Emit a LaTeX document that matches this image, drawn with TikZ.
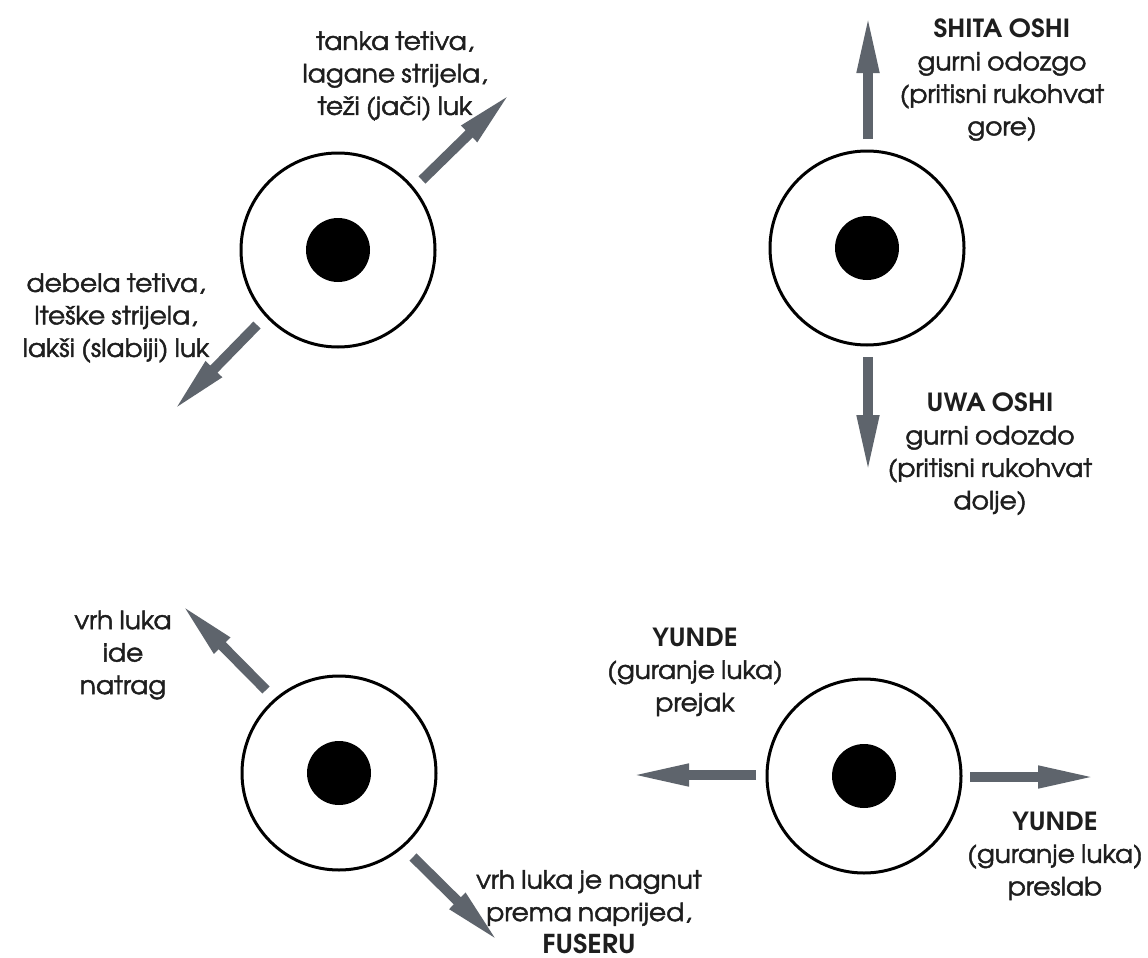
\documentclass[tikz,border=0pt]{standalone}
\usepackage{fontspec}
\setmainfont{TeX Gyre Adventor}[FakeStretch=1.06, UprightFeatures={FakeBold=1.8}, WordSpace=0.85]
\usetikzlibrary{arrows.meta}
\definecolor{arrgray}{RGB}{94,100,108}
\definecolor{txt}{RGB}{30,30,30}
\tikzset{
  ring/.style={circle, draw=black, line width=3pt, minimum size=194pt, inner sep=0pt},
  dot/.style={circle, fill=black, minimum size=64pt, inner sep=0pt},
  bigarrow/.style={draw=arrgray, line width=10pt,
    -{Triangle[length=60pt,width=20pt,fill=arrgray]}},
  lbl/.style={align=center, inner sep=0pt, text=txt,
    font=\fontsize{25}{32.5}\selectfont}
}
\newcommand{\ttl}[1]{\textbf{#1}}
\begin{document}
\begin{tikzpicture}[x=1pt,y=-1pt]
\useasboundingbox (0,0) rectangle (1148,958);
\fill[white] (0,0) rectangle (1148,958);
% rings
\node[ring] (c1) at (338,250) {};
\node[dot] (d1) at (338,250) {};
\node[ring] (c2) at (867,248) {};
\node[dot] (d2) at (867,248) {};
\node[ring] (c3) at (339,773) {};
\node[dot] (d3) at (339,773) {};
\node[ring] (c4) at (864,776) {};
\node[dot] (d4) at (864,776) {};
% arrow ends
\coordinate (a1s) at (422,180); \coordinate (a1e) at (512,92);
\coordinate (a2s) at (257,325); \coordinate (a2e) at (172,412);
\coordinate (a3s) at (868,139); \coordinate (a3e) at (868,13);
\coordinate (a4s) at (868,357); \coordinate (a4e) at (868,475);
\coordinate (a5s) at (266,690); \coordinate (a5e) at (180,603);
\coordinate (a6s) at (413,857); \coordinate (a6e) at (500,943);
\coordinate (a7s) at (756,775); \coordinate (a7e) at (629,775);
\coordinate (a8s) at (970,777); \coordinate (a8e) at (1098,777);
\draw[bigarrow] (a1s) -- (a1e);
\draw[bigarrow] (a2s) -- (a2e);
\draw[bigarrow] (a3s) -- (a3e);
\draw[bigarrow] (a4s) -- (a4e);
\draw[bigarrow] (a5s) -- (a5e);
\draw[bigarrow] (a6s) -- (a6e);
\draw[bigarrow] (a7s) -- (a7e);
\draw[bigarrow] (a8s) -- (a8e);
% labels
\node[lbl] (l1) at (395,76) {tanka tetiva,\\lagane strijela,\\teži (jači) luk};
\node[lbl] (l2) at (116,318) {debela tetiva,\\lteške strijela,\\lakši (slabiji) luk};
\node[lbl] (l3) at (1002,80) {\ttl{SHITA OSHI}\\gurni odozgo\\(pritisni rukohvat\\gore)};
\node[lbl] (l4) at (990,454) {\ttl{UWA OSHI}\\gurni odozdo\\(pritisni rukohvat\\dolje)};
\node[lbl] (l5) at (123,655) {vrh luka\\ide\\natrag};
\node[lbl] (l6) at (589,912) {vrh luka je nagnut\\prema naprijed,\\{\fontsize{26}{32}\selectfont\ttl{FUSERU}}};
\node[lbl] (l7) at (695,672) {\ttl{YUNDE}\\(guranje luka)\\prejak};
\node[lbl] (l8) at (1055,856) {\ttl{YUNDE}\\(guranje luka)\\preslab};
\end{tikzpicture}
\end{document}
